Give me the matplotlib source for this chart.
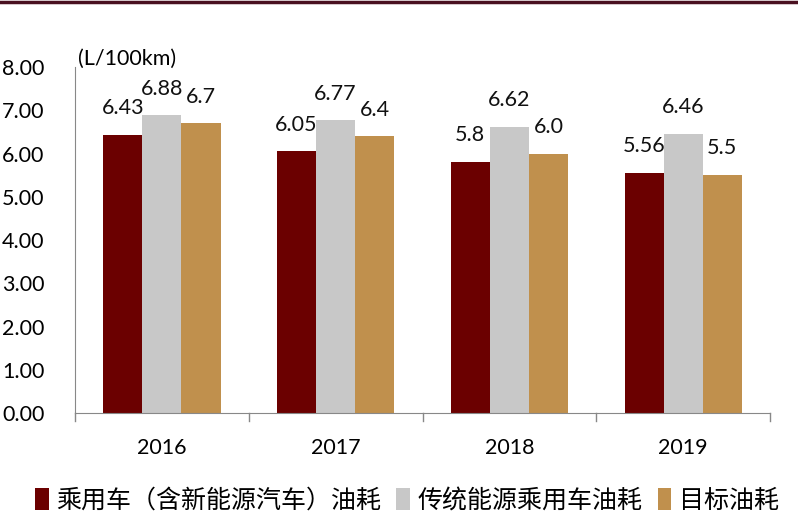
import matplotlib
matplotlib.use("Agg")
import matplotlib.pyplot as plt
import numpy as np
from matplotlib.lines import Line2D

years = ["2016", "2017", "2018", "2019"]
series_names = ["乘用车（含新能源汽车）油耗", "传统能源乘用车油耗", "目标油耗"]
s1 = [6.43, 6.05, 5.8, 5.56]
s2 = [6.88, 6.77, 6.62, 6.46]
s3 = [6.7, 6.4, 6.0, 5.5]
s1_labels = ["6.43", "6.05", "5.8", "5.56"]
s2_labels = ["6.88", "6.77", "6.62", "6.46"]
s3_labels = ["6.7", "6.4", "6.0", "5.5"]
yticks = [0, 1, 2, 3, 4, 5, 6, 7, 8]
colors = ["#6B0000", "#C8C8C8", "#C0904D"]

plt.rcParams['font.family'] = ['Lato', 'Noto Sans CJK SC', 'DejaVu Sans']

fig = plt.figure(figsize=(7.98, 5.26), dpi=100)
ax = fig.add_axes([0.094, 0.2148, 0.871, 0.6578])

x = np.arange(len(years))
w = 0.225
series = [s1, s2, s3]
labels = [s1_labels, s2_labels, s3_labels]
for i, (vals, labs) in enumerate(zip(series, labels)):
    pos = x + (i - 1) * w
    ax.bar(pos, vals, width=w, color=colors[i], label=series_names[i])
    for px, v, t in zip(pos, vals, labels[i]):
        ax.annotate(t, (px, v), xytext=(0, 12), textcoords='offset points',
                    ha='center', va='bottom', fontsize=15.5, color='#111111')

ax.set_xlim(-0.5, len(years) - 0.5)
ax.set_ylim(0, 8)
ax.set_yticks(yticks)
ax.set_yticklabels([f"{v:.2f}" for v in yticks], fontsize=15.5)
ax.set_xticks(x)
ax.set_xticklabels(years, fontsize=15.5)
ax.tick_params(axis='x', length=0, pad=18)
ax.tick_params(axis='y', length=0, pad=22)
for b in np.arange(-0.5, len(years) + 0.5, 1):
    ax.plot([b, b], [0, -0.18], color='#888888', lw=1, clip_on=False)

for sp in ['top', 'right']:
    ax.spines[sp].set_visible(False)
ax.spines['left'].set_color('#888888')
ax.spines['bottom'].set_color('#888888')

ax.text(-0.48, 7.95, "(L/100km)", fontsize=15.5, ha='left', va='bottom')

fig.add_artist(Line2D([0, 1], [0.996, 0.996], color='#4A1020', lw=2.5, transform=fig.transFigure))

handles, labs = ax.get_legend_handles_labels()
leg = fig.legend(handles, labs, loc='center', bbox_to_anchor=(0.51, 0.048), ncol=3, frameon=False,
                 handlelength=0.55, handleheight=1.0, handletextpad=0.3, columnspacing=0.6,
                 prop={'family': ['Noto Sans CJK SC', 'DejaVu Sans'], 'size': 18})

fig.savefig("out.png", dpi=100)
